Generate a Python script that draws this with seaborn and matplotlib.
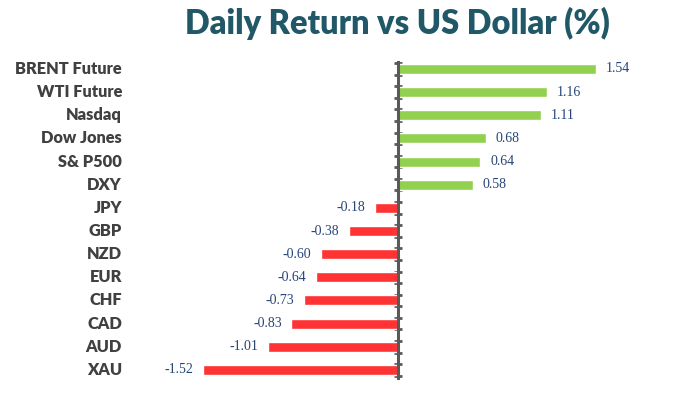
import numpy as np
import pandas as pd
import matplotlib
matplotlib.use("Agg")
import matplotlib.pyplot as plt
import matplotlib.transforms as mtransforms
import seaborn as sns

categories = ["BRENT Future", "WTI Future", "Nasdaq", "Dow Jones", "S& P500", "DXY",
              "JPY", "GBP", "NZD", "EUR", "CHF", "CAD", "AUD", "XAU"]
values = [1.54, 1.16, 1.11, 0.68, 0.64, 0.58,
          -0.18, -0.38, -0.60, -0.64, -0.73, -0.83, -1.01, -1.52]
value_labels = ["1.54", "1.16", "1.11", "0.68", "0.64", "0.58",
                "-0.18", "-0.38", "-0.60", "-0.64", "-0.73", "-0.83", "-1.01", "-1.52"]
title = "Daily Return vs US Dollar (%)"

GREEN = "#92D050"
RED = "#FF3333"

sns.set_style("white")
plt.rcParams["font.family"] = ["Lato", "DejaVu Sans"]

df = pd.DataFrame({"cat": categories, "val": values})
palette = {c: (GREEN if v >= 0 else RED) for c, v in zip(categories, values)}

fig = plt.figure(figsize=(6.87, 3.97), dpi=100)
ax = fig.add_axes([0.2050, 0.0390, 0.7488, 0.8166])

sns.barplot(data=df, x="val", y="cat", hue="cat", palette=palette, legend=False,
            orient="h", width=0.43, saturation=1, ax=ax, order=categories)

ax.set_xlim(-2.0, 2.0)
ax.set_ylim(13.5, -0.5)
ax.set_xlabel("")
ax.set_ylabel("")
ax.set_xticks([])

for s in ["top", "right", "bottom"]:
    ax.spines[s].set_visible(False)
ax.spines["left"].set_position(("data", 0))
ax.spines["left"].set_color("#595959")
ax.spines["left"].set_linewidth(2.2)
ax.spines["left"].set_bounds(-0.3, 13.35)
ax.spines["left"].set_zorder(5)
ax.set_yticks(np.arange(-0.25, 13.5, 0.5))
ax.set_yticklabels([])
ax.tick_params(axis="y", direction="inout", length=6, width=2, color="#595959", left=True)

trans = mtransforms.blended_transform_factory(fig.transFigure, ax.transData)
for i, c in enumerate(categories):
    ax.text(122 / 687, i, c, transform=trans, ha="right", va="center",
            fontsize=11.8, fontweight="heavy", color="#404040")

for i, (v, lab) in enumerate(zip(values, value_labels)):
    off = 0.075 if v >= 0 else -0.075
    ax.text(v + off, i, lab, ha="left" if v >= 0 else "right", va="center",
            fontsize=10, color="#264478", family=["Liberation Serif", "DejaVu Serif"])

fig.text(397 / 687, 1 - 23 / 397, title, ha="center", va="center",
         fontsize=23.5, fontweight="heavy", color="#215868")

fig.savefig("out.png", dpi=100)
